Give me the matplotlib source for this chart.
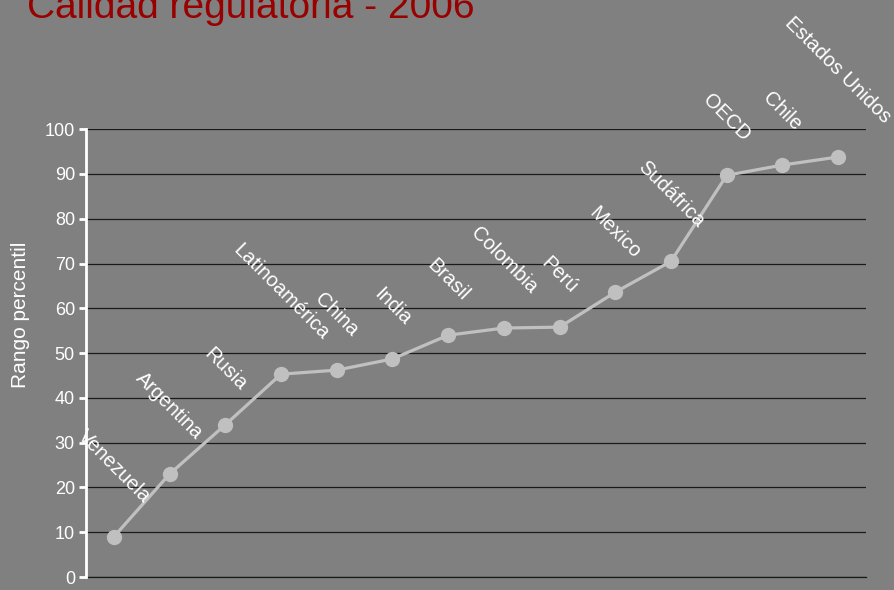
import numpy as np
import matplotlib.pyplot as plt

plt.rcParams['font.family'] = ['Liberation Sans', 'DejaVu Sans']

countries = ['Venezuela', 'Argentina', 'Rusia', 'Latinoamérica', 'China', 'India',
             'Brasil', 'Colombia', 'Perú', 'Mexico', 'Sudáfrica', 'OECD', 'Chile',
             'Estados Unidos']
rank = [9.0, 23.0, 34.0, 45.3, 46.2, 48.7, 54.0, 55.6, 55.8, 63.6, 70.5, 89.7, 92.0, 93.8]
yticks = [0, 10, 20, 30, 40, 50, 60, 70, 80, 90, 100]

bg = '#808080'
fig = plt.figure(figsize=(8.95, 5.9), dpi=100, facecolor=bg)
ax = fig.add_axes([0.0961, 0.022, 0.8715, 0.759])
ax.set_facecolor(bg)

x = np.arange(len(countries))
ax.plot(x, rank, color='#c0c0c0', lw=2.3, marker='o', ms=10, zorder=3)

# rotated country labels above each point
for xi, yi, name in zip(x, rank, countries):
    ax.annotate(name, (xi, yi), xytext=(0, 22), textcoords='offset points',
                ha='center', va='bottom', rotation=-45, color='white',
                fontsize=14.5, annotation_clip=False, zorder=4)

ax.set_xlim(-0.5, len(countries) - 0.5)
ax.set_ylim(0, 100)
ax.set_yticks(yticks)
ax.set_xticks([])
ax.yaxis.grid(True, color='#1a1a1a', lw=0.9)
ax.axhline(0, color='#1a1a1a', lw=0.9, clip_on=False, zorder=0)
ax.set_axisbelow(True)
for s in ['top', 'right', 'bottom']:
    ax.spines[s].set_visible(False)
ax.spines['left'].set_color('white')
ax.spines['left'].set_linewidth(2)
ax.tick_params(axis='y', colors='white', labelsize=13, length=5, width=2, pad=3)
ax.set_ylabel('Rango percentil', color='white', fontsize=15, labelpad=10)
ax.yaxis.set_label_coords(-0.072, 0.585)

# title sits partly above the top edge, as in the original slide
fig.text(0.03, 1 - 18 / 590, 'Calidad regulatoria - 2006', color='#990000',
         fontsize=28, va='baseline', ha='left')

plt.savefig('out.png', dpi=100, facecolor=bg)
